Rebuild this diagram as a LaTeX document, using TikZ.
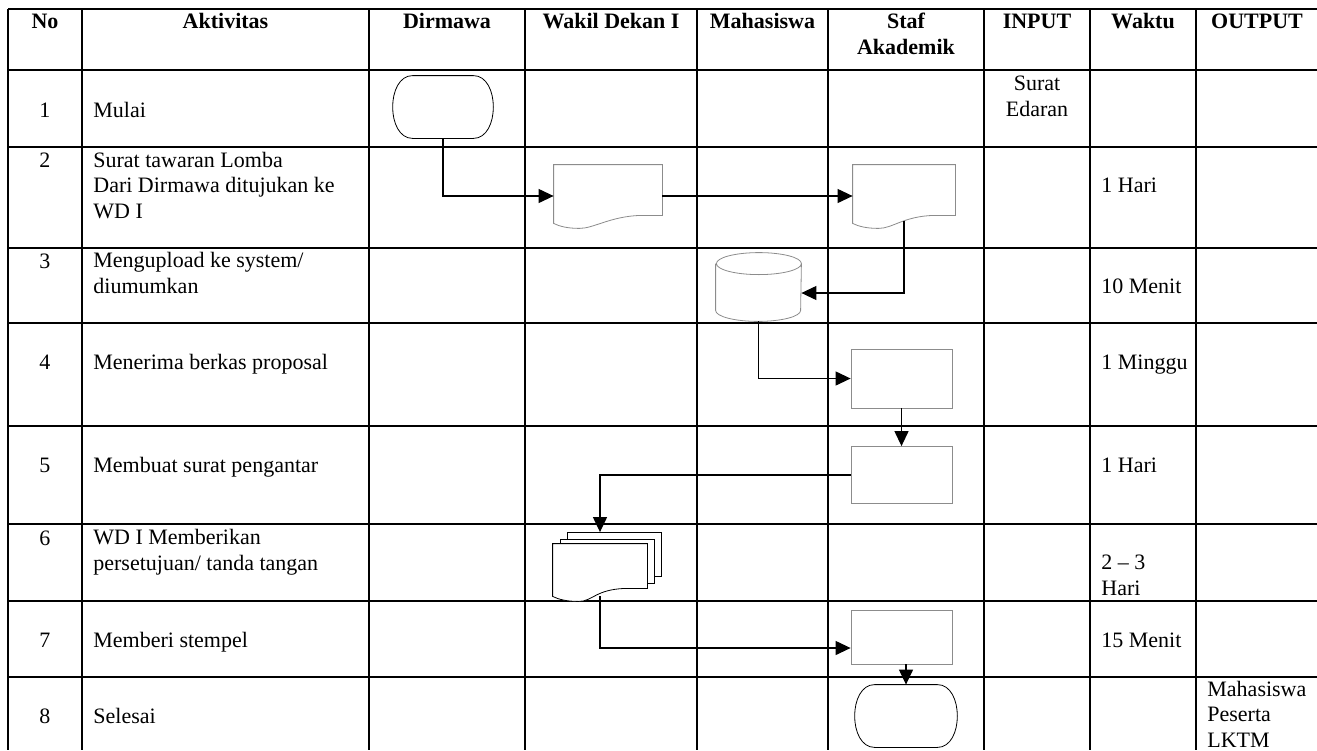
\documentclass[tikz,border=0pt]{standalone}
\usepackage{fontspec}
\setmainfont{Liberation Serif}
\usetikzlibrary{positioning, arrows.meta}
\definecolor{boxgray}{rgb}{0.55, 0.55, 0.55}
\tikzset{%
  terminal/.style={
    rectangle,
    minimum width=50pt,
    minimum height=31pt
  },
  process/.style={
    rectangle,
    draw=boxgray,
    thin,
    minimum width=50.5pt,
    minimum height=29.5pt
  },
  docnode/.style={
    rectangle,
    minimum width=54pt,
    minimum height=25pt
  },
  sheet/.style={
    rectangle,
    draw,
    fill=white,
    thin,
    minimum width=47pt,
    minimum height=22pt
  },
  cell/.style={inner sep=0pt, anchor=base west, align=left, font=\fontsize{11}{12.75}\selectfont},
  mid/.style={inner sep=0pt, anchor=base, align=center, font=\fontsize{11}{12.75}\selectfont},
  head/.style={mid, font=\fontsize{11}{12.75}\selectfont\bfseries},
  flow/.style={-{Triangle[length=7.5pt, width=7pt]}, line width=0.6pt},
  tableline/.style={line width=0.8pt}
}
% outline of a document symbol round a named node
\newcommand{\docoutline}[2][boxgray]{%
  \draw[#1, thin, fill=white] ([yshift=-4pt]#2.south west) -- (#2.north west) -- (#2.north east) -- (#2.south east)
    -- ([xshift=-11pt]#2.south east)
    .. controls ([xshift=-26pt, yshift=-0.5pt]#2.south east) and ([xshift=20pt, yshift=-6.5pt]#2.south west) .. ([xshift=13pt, yshift=-6.5pt]#2.south west)
    .. controls ([xshift=7pt, yshift=-6.5pt]#2.south west) and ([xshift=3pt, yshift=-5.5pt]#2.south west) .. ([yshift=-4pt]#2.south west) -- cycle;}
% outline of a start / end symbol round a named node
\newcommand{\termoutline}[1]{%
  \draw[thin] ([xshift=10pt]#1.north west) -- ([xshift=-10pt]#1.north east)
    .. controls ([xshift=3.3pt]#1.north east) and ([xshift=3.3pt]#1.south east) .. ([xshift=-10pt]#1.south east)
    -- ([xshift=10pt]#1.south west)
    .. controls ([xshift=-3.3pt]#1.south west) and ([xshift=-3.3pt]#1.north west) .. cycle;}

\begin{document}
\begin{tikzpicture}[x=0.5pt, y=-0.5pt]
		\useasboundingbox (0,0) rectangle (1317,750);
		% table
		\draw[tableline] (8,9) -- (1317,9) (8,70) -- (1317,70) (8,147) -- (1317,147)
			(8,248) -- (1317,248) (8,323) -- (1317,323) (8,426) -- (1317,426)
			(8,524) -- (1317,524) (8,601) -- (1317,601) (8,677) -- (1317,677);
		\draw[tableline] (8,9) -- (8,750) (82,9) -- (82,750) (369,9) -- (369,750)
			(525,9) -- (525,750) (697,9) -- (697,750) (828,9) -- (828,750)
			(984,9) -- (984,750) (1090,9) -- (1090,750) (1196,9) -- (1196,750);
		% header
		\node[head] (hNo) at (45,28) {No};
		\node[head] (hAkt) at (225.5,28) {Aktivitas};
		\node[head] (hDir) at (447,28) {Dirmawa};
		\node[head] (hWak) at (611,28) {Wakil Dekan I};
		\node[head] (hMah) at (762.5,28) {Mahasiswa};
		\node[head] (hStaf) at (906,54) {Staf\\Akademik};
		\node[head] (hIn) at (1037,28) {INPUT};
		\node[head] (hWkt) at (1143,28) {Waktu};
		\node[head] (hOut) at (1257,28) {OUTPUT};
		% numbers
		\node[mid] (n1) at (45,117) {1};
		\node[mid] (n2) at (45,167) {2};
		\node[mid] (n3) at (45,268) {3};
		\node[mid] (n4) at (45,369) {4};
		\node[mid] (n5) at (45,472) {5};
		\node[mid] (n6) at (45,545) {6};
		\node[mid] (n7) at (45,647) {7};
		\node[mid] (n8) at (45,723) {8};
		% activities
		\node[cell] (t1) at (93,117) {Mulai};
		\node[cell] (t2) at (93,218) {Surat tawaran Lomba\\Dari Dirmawa ditujukan ke\\WD I};
		\node[cell] (t3) at (93,293) {Mengupload ke system/\\diumumkan};
		\node[cell] (t4) at (93,369) {Menerima berkas proposal};
		\node[cell] (t5) at (93,472) {Membuat surat pengantar};
		\node[cell] (t6) at (93,570) {WD I Memberikan\\persetujuan/ tanda tangan};
		\node[cell] (t7) at (93,647) {Memberi stempel};
		\node[cell] (t8) at (93,723) {Selesai};
		% input, time, output
		\node[mid] (in1) at (1037,116) {Surat\\Edaran};
		\node[cell] (w2) at (1101,192) {1 Hari};
		\node[cell] (w3) at (1101,293) {10 Menit};
		\node[cell] (w4) at (1101,369) {1 Minggu};
		\node[cell] (w5) at (1101,472) {1 Hari};
		\node[cell] (w6) at (1101,595) {2 -- 3\\Hari};
		\node[cell] (w7) at (1101,647) {15 Menit};
		\node[cell] (out8) at (1207,747) {Mahasiswa\\Peserta\\LKTM};
		% flow symbols
		\node[terminal] (s0) at (443,107) {};
		\termoutline{s0}
		\node[docnode] (d1) at (608,190) {};
		\docoutline{d1}
		\node[docnode, minimum width=51pt] (d2) at (904,190) {};
		\docoutline{d2}
		\node[docnode, minimum width=42.5pt, minimum height=34pt] (db) at (758.5,287) {};
		\draw[boxgray, thin] ([yshift=-5.5pt]db.north west) -- ([yshift=5.5pt]db.south west)
			arc[start angle=180, end angle=360, x radius=21.25pt, y radius=5.5pt]
			-- ([yshift=-5.5pt]db.north east) arc[start angle=0, end angle=360, x radius=21.25pt, y radius=5.5pt];
		\node[process] (p4) at (901.5,378.5) {};
		\node[process, minimum height=28.5pt] (p5) at (901.5,475) {};
		\node[sheet] (mdA) at (614.5,554.5) {};
		\node[sheet] (mdB) at (607,561) {};
		\node[docnode, minimum width=47pt, minimum height=22pt] (mdC) at (600,566) {};
		\docoutline[black]{mdC}
		\node[process, minimum height=27pt] (p7) at (901.5,637) {};
		\node[terminal, minimum width=51pt] (e8) at (906,716) {};
		\termoutline{e8}
		% connectors
		\draw[flow] (s0.south) |- ([yshift=-3pt]d1.west);
		\draw[flow] ([yshift=-3pt]d1.east) -- ([yshift=-3pt]d2.west);
		\draw[flow] ([yshift=-3pt]d2.south) |- ([yshift=-3pt]db.east);
		\draw[flow] (db.south) |- (p4.west);
		\draw[flow] (p4.south) -- (p5.north);
		\draw[flow] (p5.west) -| (mdC.north |- mdA.north);
		\draw[flow] ([yshift=-4pt]mdC.south) |- ([yshift=-5.5pt]p7.west);
		\draw[flow] ([xshift=2.25pt]p7.south) -- ([xshift=2.25pt]p7.south |- e8.north);
	\end{tikzpicture}
\end{document}
